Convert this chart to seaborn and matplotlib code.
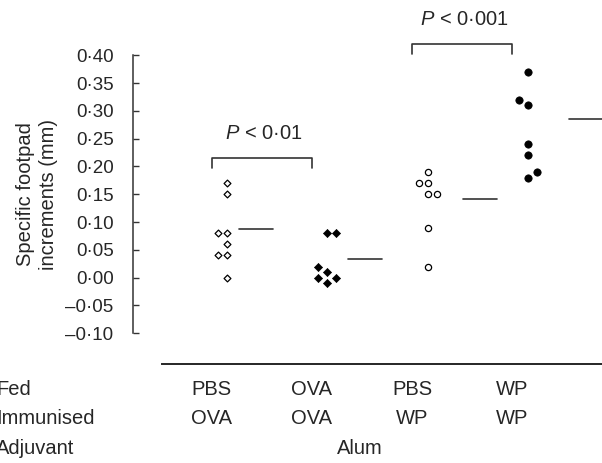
import seaborn as sns # For plotting
import matplotlib.pyplot as plt # For showing plots
import pandas as pd

# Data
fed = ["PBS", "OVA", "PBS", "WP"]
immunised = ["OVA", "OVA", "WP", "WP"]
adjuvant = "Alum"
row_names = ["Fed", "Immunised", "Adjuvant"]

pbs_ova = [0.17, 0.15, 0.08, 0.08, 0.06, 0.04, 0.04, 0.00]
ova_ova = [0.08, 0.08, 0.02, 0.01, 0.00, 0.00, -0.01]
pbs_wp = [0.19, 0.17, 0.17, 0.15, 0.15, 0.09, 0.02]
wp_wp = [0.37, 0.32, 0.31, 0.24, 0.22, 0.19, 0.18]

group_means = [0.087, 0.034, 0.141, 0.286]

y_ticks = [0.40, 0.35, 0.30, 0.25, 0.20, 0.15, 0.10, 0.05, 0.00, -0.05, -0.10]
y_tick_labels = ["0·40", "0·35", "0·30", "0·25", "0·20", "0·15", "0·10",
                 "0·05", "0·00", "–0·05", "–0·10"]

# (group a, group b, bracket height, text)
comparisons = [(0, 1, 0.215, "$P$ < 0·01"), (2, 3, 0.420, "$P$ < 0·001")]

# Layout: little side-steps so equal values sit next to each other
cols = [[0, 0, -1, 0, 0, -1, 0, 0],
        [0, 1, -1, 0, -1, 1, 0],
        [0, -1, 0, 0, 1, 0, 0],
        [0, -1, 0, 0, 0, 1, 0]]
mean_line_start = [0.274, 0.36, 0.508, 0.564]

sns.set_style("ticks")
plt.rcParams['font.family'] = ['Liberation Sans', 'DejaVu Sans']
plt.rcParams['mathtext.fontset'] = 'custom'
plt.rcParams['mathtext.it'] = 'Liberation Sans:italic'
plt.rcParams['mathtext.rm'] = 'Liberation Sans'

fig = plt.figure(figsize=(6.02, 4.63), dpi=100)
ax = fig.add_axes([0.2209, 0.2132, 0.779, 0.7868])

# Points
all_values = [pbs_ova, ova_ova, pbs_wp, wp_wp]
styles = [dict(marker="D", s=12, color="white", edgecolor="black", linewidth=0.9),
          dict(marker="D", s=17, color="black", edgecolor="black", linewidth=0.5),
          dict(marker="o", s=20, color="white", edgecolor="black", linewidth=0.9),
          dict(marker="o", s=28, color="black", edgecolor="black", linewidth=0.5)]
for i, vals in enumerate(all_values):
    df = pd.DataFrame({"x": [i + 0.155 + c * 0.09 for c in cols[i]], "y": vals})
    sns.scatterplot(data=df, x="x", y="y", ax=ax, clip_on=False, zorder=3, **styles[i])

# Mean lines
for i, m in enumerate(group_means):
    x0 = i + mean_line_start[i]
    ax.plot([x0, x0 + 0.34], [m, m], color="#333333", lw=1.2, clip_on=True)

# Significance brackets
for a, b, y, txt in comparisons:
    ax.plot([a, a, b, b], [y - 0.018, y, y, y - 0.018], color="#333333", lw=1.2)
    ax.text((a + b) / 2 + 0.02, y + 0.045, txt, ha="center", va="center", fontsize=14.5)

ax.set_xlim(-0.783, 3.893)
ax.set_ylim(-0.1558, 0.4995)
ax.set_yticks(y_ticks)
ax.set_yticklabels(y_tick_labels, fontsize=13.5)
ax.tick_params(axis="y", direction="in", length=4.5, width=1, color="#333333", pad=14)
ax.set_xticks([])
ax.set_xlabel("")
ax.set_ylabel("")
sns.despine(ax=ax)
ax.spines["left"].set_bounds(-0.10, 0.40)
ax.spines["left"].set_color("#333333")
ax.spines["left"].set_linewidth(1.1)
ax.spines["bottom"].set_bounds(-0.494, 3.893)
ax.spines["bottom"].set_linewidth(1.4)

ax.text(-0.205, 0.15, "Specific footpad\nincrements (mm)", transform=ax.get_yaxis_transform(),
        rotation=90, ha="center", va="center", fontsize=14.5, linespacing=1.3)

# Treatment rows under the axis
trans = ax.get_xaxis_transform()
row_y = [-0.0705, -0.150, -0.2298]
for r, name in enumerate(row_names):
    ax.text(-2.149, row_y[r], name, transform=trans, ha="left", va="center",
            fontsize=14.5, clip_on=False)
for i in range(4):
    ax.text(i, row_y[0], fed[i], transform=trans, ha="center", va="center", fontsize=14.5)
    ax.text(i, row_y[1], immunised[i], transform=trans, ha="center", va="center", fontsize=14.5)
ax.text(1.48, row_y[2], adjuvant, transform=trans, ha="center", va="center", fontsize=14.5)

plt.savefig("out.png", dpi=100)
